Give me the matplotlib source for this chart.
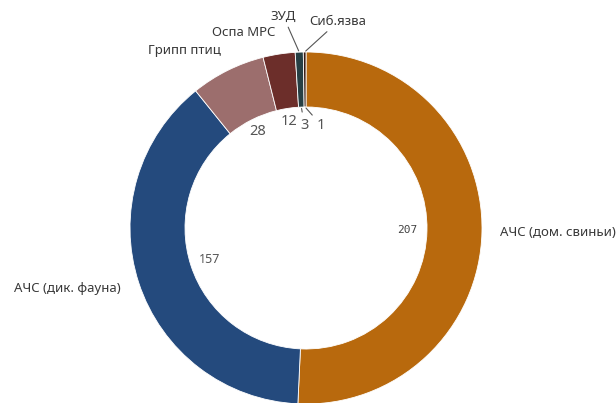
import numpy as np
import matplotlib.pyplot as plt

categories = ['АЧС (дом. свиньи)', 'АЧС (дик. фауна)', 'Грипп птиц', 'Оспа МРС', 'ЗУД', 'Сиб.язва']
values = [207, 157, 28, 12, 3, 1]
colors = ['#B8690D', '#244A7D', '#9C6E6D', '#6C2E2A', '#263F44', '#3A1C12']

# label placement (pixel offsets from the wedge edge, y upward)
name_off = [(18, 0, 'left'), (-18, -6, 'right'), (-7, 20, 'right'),
            (-4, 22, 'right'), (-3, 29, 'right'), (5, 24, 'left')]
val_off = [None, None, None, None, (3, -18), (16, -18)]

W, H = 616, 403
cx, cy = 306, H - 228
R, ring = 176, 55

fig = plt.figure(figsize=(W / 100, H / 100), dpi=100)
ax = fig.add_axes([0, 0, 1, 1])
wedges, _ = ax.pie(values, startangle=90, counterclock=False, colors=colors,
                   radius=R, center=(cx, cy), frame=True,
                   wedgeprops=dict(width=ring, edgecolor='white', linewidth=0.6))
ax.set_xlim(0, W)
ax.set_ylim(0, H)
ax.set_aspect('equal')
ax.axis('off')

for i, w in enumerate(wedges):
    mid = np.radians((w.theta1 + w.theta2) / 2)
    c, s = np.cos(mid), np.sin(mid)
    # category names
    dx, dy, ha = name_off[i]
    ox, oy = cx + R * c, cy + R * s
    if i >= 4:
        ax.annotate(categories[i], xy=(ox, oy), xytext=(dx, dy), textcoords='offset pixels',
                    ha=ha, va='bottom', fontsize=9.5, family='Noto Sans', color='#383838',
                    arrowprops=dict(arrowstyle='-', color='#555555', lw=0.8, shrinkA=1, shrinkB=1))
    else:
        ax.text(ox + dx, oy + dy, categories[i], ha=ha, va='center',
                fontsize=9.5, family='Noto Sans', color='#383838')
    # values
    r_in = R - ring
    if val_off[i] is None:
        rv = 101 if i < 2 else 108
        fam = 'DejaVu Sans Mono' if i == 0 else 'Noto Sans'
        fs = 8 if i == 0 else (9 if i == 1 else 10.5)
        col = '#444444' if i == 0 else '#555555'
        ax.text(cx + rv * c, cy + rv * s, str(values[i]), ha='center', va='center',
                fontsize=fs, family=fam, color=col)
    else:
        ax.annotate(str(values[i]), xy=(cx + r_in * c, cy + r_in * s), xytext=val_off[i],
                    textcoords='offset pixels', ha='center', va='center',
                    fontsize=10.5, family='Noto Sans', color='#555555',
                    arrowprops=dict(arrowstyle='-', color='#555555', lw=0.8, shrinkA=2, shrinkB=1))

fig.savefig('out.png', dpi=100)
